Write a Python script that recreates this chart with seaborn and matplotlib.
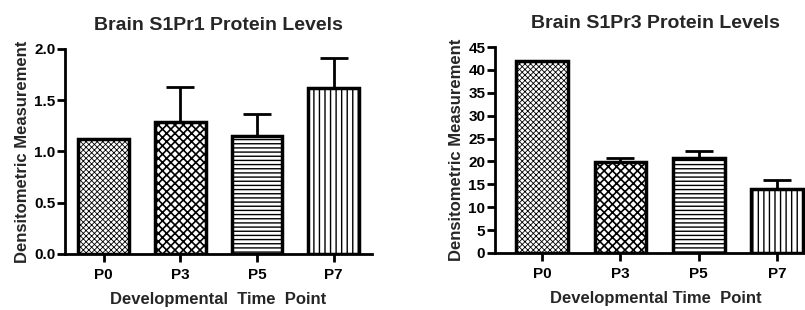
import pandas as pd
import matplotlib
matplotlib.use("Agg")
import matplotlib.pyplot as plt
import seaborn as sns

sns.set_style("ticks")
plt.rcParams["font.family"] = ["Liberation Sans", "DejaVu Sans"]
plt.rcParams["font.weight"] = "bold"
plt.rcParams["hatch.linewidth"] = 1.0

time_points = ["P0", "P3", "P5", "P7"]
s1pr1_mean = [1.12, 1.29, 1.15, 1.62]
s1pr1_sem = [0.0, 0.34, 0.22, 0.29]
s1pr3_mean = [42.0, 19.8, 20.7, 13.9]
s1pr3_sem = [0.0, 0.9, 1.6, 2.1]
hatches = ["xxxxxx", "xxxx", "----", "|||"]
hatch_widths = [0.6, 1.2, 1.0, 1.0]

fig = plt.figure(figsize=(8.05, 3.1), dpi=100)
ax1 = fig.add_axes([0.081, 0.181, 0.381, 0.661])
ax2 = fig.add_axes([0.615, 0.184, 0.399, 0.664])


def draw(ax, means, sems, title, xlabel, yticks, ymax, xleft):
    df = pd.DataFrame({"Time": time_points, "Value": means})
    sns.barplot(data=df, x="Time", y="Value", ax=ax, color="white",
                edgecolor="black", linewidth=2.5, width=0.66,
                saturation=1, errorbar=None, zorder=3)
    for patch, h, hw in zip(ax.patches, hatches, hatch_widths):
        patch.set_hatch(h)
        patch.set_facecolor("white")
        if hasattr(patch, "set_hatch_linewidth"):
            patch.set_hatch_linewidth(hw)
    ax.errorbar(range(len(means)), means, yerr=[[0] * len(means), sems],
                fmt="none", ecolor="black", elinewidth=2, capsize=10,
                capthick=2, zorder=2)
    ax.set_xlim(xleft, 3.5)
    ax.set_ylim(0, ymax)
    ax.set_yticks(yticks)
    ax.set_title(title, fontsize=14, fontweight="bold", pad=14)
    ax.set_xlabel(xlabel, fontsize=12, fontweight="bold", labelpad=7)
    ax.set_ylabel("Densitometric Measurement", fontsize=12, fontweight="bold",
                  labelpad=3)
    sns.despine(ax=ax)
    for side in ["left", "bottom"]:
        ax.spines[side].set_linewidth(2)
        ax.spines[side].set_color("black")
    ax.tick_params(axis="both", width=2, length=6, labelsize=11,
                   colors="black", pad=1)
    ax.tick_params(axis="x", pad=4)


draw(ax1, s1pr1_mean, s1pr1_sem, "Brain S1Pr1 Protein Levels",
     "Developmental  Time  Point", [0.0, 0.5, 1.0, 1.5, 2.0], 2.0, -0.5)
ax1.set_yticklabels(["0.0", "0.5", "1.0", "1.5", "2.0"])
draw(ax2, s1pr3_mean, s1pr3_sem, "Brain S1Pr3 Protein Levels",
     "Developmental Time  Point", list(range(0, 50, 5)), 45, -0.6)

fig.savefig("out.png", dpi=100)
